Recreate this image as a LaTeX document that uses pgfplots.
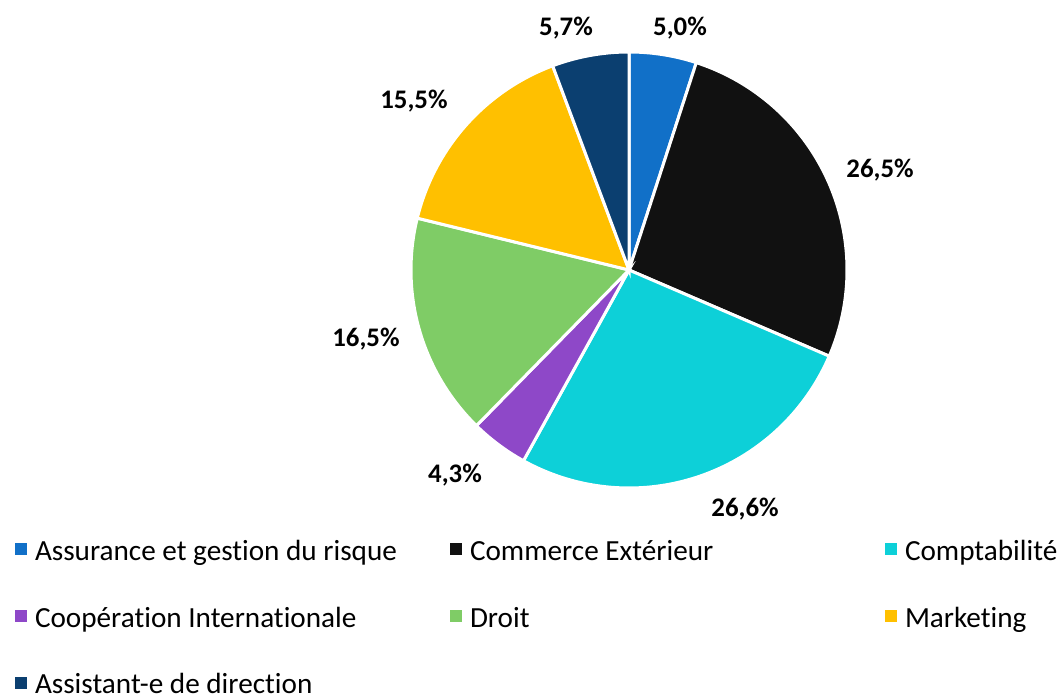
\documentclass[border=0pt]{standalone}
\usepackage{pgfplots}
\pgfplotsset{compat=1.18}
\usepackage{fontspec}
\setmainfont{Carlito}[Ligatures={NoCommon}]
\definecolor{cA}{HTML}{1170C8}
\definecolor{cB}{HTML}{111111}
\definecolor{cC}{HTML}{0DD0D8}
\definecolor{cD}{HTML}{8E48C8}
\definecolor{cE}{HTML}{7FCC66}
\definecolor{cF}{HTML}{FFC000}
\definecolor{cG}{HTML}{0B3F70}
% slice values (%)
\def\vA{5.0}\def\vB{26.5}\def\vC{26.6}\def\vD{4.3}\def\vE{16.5}\def\vF{15.5}\def\vG{5.7}
\def\pk{3.5964}% 360/100.1
\newcommand{\legtxt}[1]{\makebox[407bp][l]{\strut #1}}
\begin{document}
\begin{tikzpicture}
\begin{axis}[
  scale only axis, width=1060bp, height=695bp,
  xmin=0, xmax=1060, ymin=0, ymax=695,
  axis lines=none, clip=false,
  samples=80,
  legend columns=3,
  legend image code/.code={\fill[#1,draw=none] (0bp,-6bp) rectangle (12bp,6bp);},
  legend style={draw=none, fill=none, inner sep=0pt, outer sep=0pt,
    at={(axis cs:15,79)}, anchor=west,
    font=\fontsize{29.2bp}{34bp}\selectfont,
    column sep=8bp, row sep=41.5bp,
    nodes={inner sep=0pt}, cells={anchor=west}},
]
\addplot[fill=cA, draw=white, line width=3bp, domain={90-\pk*(\vA)}:{90}]
  ({629+218*cos(x)},{425+218*sin(x)}) -- (axis cs:629,425) -- cycle;
\addlegendentry{\legtxt{Assurance et gestion du risque}}
\addplot[fill=cB, draw=white, line width=3bp, domain={90-\pk*(\vA+\vB)}:{90-\pk*(\vA)}]
  ({629+218*cos(x)},{425+218*sin(x)}) -- (axis cs:629,425) -- cycle;
\addlegendentry{\legtxt{Commerce Extérieur}}
\addplot[fill=cC, draw=white, line width=3bp, domain={90-\pk*(\vA+\vB+\vC)}:{90-\pk*(\vA+\vB)}]
  ({629+218*cos(x)},{425+218*sin(x)}) -- (axis cs:629,425) -- cycle;
\addlegendentry{\strut Comptabilité}
\addplot[fill=cD, draw=white, line width=3bp, domain={90-\pk*(\vA+\vB+\vC+\vD)}:{90-\pk*(\vA+\vB+\vC)}]
  ({629+218*cos(x)},{425+218*sin(x)}) -- (axis cs:629,425) -- cycle;
\addlegendentry{\legtxt{Coopération Internationale}}
\addplot[fill=cE, draw=white, line width=3bp, domain={90-\pk*(\vA+\vB+\vC+\vD+\vE)}:{90-\pk*(\vA+\vB+\vC+\vD)}]
  ({629+218*cos(x)},{425+218*sin(x)}) -- (axis cs:629,425) -- cycle;
\addlegendentry{\legtxt{Droit}}
\addplot[fill=cF, draw=white, line width=3bp, domain={90-\pk*(\vA+\vB+\vC+\vD+\vE+\vF)}:{90-\pk*(\vA+\vB+\vC+\vD+\vE)}]
  ({629+218*cos(x)},{425+218*sin(x)}) -- (axis cs:629,425) -- cycle;
\addlegendentry{\strut Marketing}
\addplot[fill=cG, draw=white, line width=3bp, domain={-270}:{90-\pk*(\vA+\vB+\vC+\vD+\vE+\vF)}]
  ({629+218*cos(x)},{425+218*sin(x)}) -- (axis cs:629,425) -- cycle;
\addlegendentry{\legtxt{Assistant-e de direction}}
\begin{scope}[font=\fontsize{26.8bp}{31bp}\selectfont\bfseries]
\node at (axis cs:680,667) {5,0\%};
\node at (axis cs:880,525) {26,5\%};
\node at (axis cs:745,186) {26,6\%};
\node at (axis cs:455,220) {4,3\%};
\node at (axis cs:366,356) {16,5\%};
\node at (axis cs:414,594) {15,5\%};
\node at (axis cs:566,667) {5,7\%};
\end{scope}
\end{axis}
\pgfresetboundingbox
\path (current axis.south west) rectangle (current axis.north east);
\end{tikzpicture}
\end{document}
